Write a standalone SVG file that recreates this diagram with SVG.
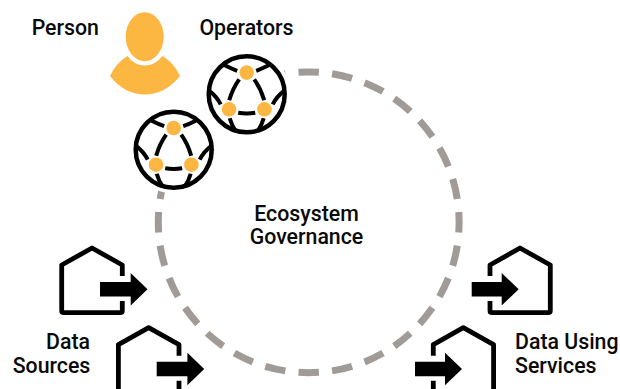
<svg xmlns="http://www.w3.org/2000/svg" xmlns:xlink="http://www.w3.org/1999/xlink" width="620" height="389" viewBox="0 0 620 389">
<style>
text{font-family:Roboto,"Liberation Sans",sans-serif;font-weight:500;font-size:21.3px;fill:#0a0a0a}
.ring{fill:none;stroke:#a09b97;stroke-width:7;stroke-dasharray:20.500 13.250;stroke-dashoffset:10.250}
.house{fill:none;stroke:#000;stroke-width:4.800;stroke-linejoin:round;stroke-linecap:butt}
.arrow{fill:#000}
.net{fill:none;stroke:#000;stroke-width:4}
.halo{fill:#fff}
.globe{fill:#fff;stroke:#000;stroke-width:4.500}
.dot{fill:#fbb741}
</style>
<defs>
<g id="globe">
<circle class="halo" r="44"/>
<circle class="globe" r="38"/>
<path class="net" d="M-9.500-23.500Q-15-25.500-22-29M9.500-23.500Q15-25.500 22-29M-7.500-15Q-14-6-17.500 6M7.500-15Q14-6 17.500 6M-8.500 18.500Q0 20 8.500 18.500M-26 10Q-30 2-38-4M26 10Q30 2 38-4M-17 24Q-15 31-11 37M17 24Q15 31 11 37"/>
<circle class="dot" cy="-21.700" r="7.300"/><circle class="dot" cx="-17.700" cy="15" r="7.300"/><circle class="dot" cx="17.700" cy="15" r="7.300"/>
</g>
<g id="src">
<path class="house" d="M122.300 276V265L92 248 61.700 265V310.500Q61.700 312.700 64 312.700H120Q122.300 312.700 122.300 310.500V301"/>
<path class="arrow" d="M100 282H130.700V273L147.500 289.300 130.700 305.500V296.500H100Z"/>
</g>
<g id="dst">
<path class="house" d="M490 276V265L520 248 550.300 265V310.500Q550.300 312.700 548 312.700H492Q490 312.700 490 310.500V301"/>
<path class="arrow" d="M471.700 282H501.700V273L518.700 289.300 501.700 305.500V296.500H471.700Z"/>
</g>
</defs>
<g id="connectors"><circle class="ring" cx="308.700" cy="222.300" r="150.400" pathLength="945" transform="rotate(-90 308.700 222.300)"/></g>
<g id="person">
<ellipse class="dot" cx="144.700" cy="36.700" rx="19" ry="24.500"/>
<path class="dot" d="M127.500 56Q134 65.500 144.700 65.500T162.500 56Q174 63 180 76Q165 94.500 144.700 94.500T110 76Q116 63 127.500 56Z"/>
<text x="65.300" y="34.500" text-anchor="middle">Person</text>
</g>
<g id="operators">
<text x="246.500" y="34.500" text-anchor="middle">Operators</text>
<use xlink:href="#globe" x="246.700" y="94.300"/>
<use xlink:href="#globe" x="173.700" y="149.700"/>
</g>
<g id="governance"><text x="306.500" y="220.500" text-anchor="middle">Ecosystem</text><text x="306.500" y="243.500" text-anchor="middle">Governance</text></g>
<g id="data-sources">
<use xlink:href="#src"/><use xlink:href="#src" x="56.700" y="79.700"/>
<text x="68" y="349" text-anchor="middle">Data</text><text x="51.500" y="372.500" text-anchor="middle">Sources</text>
</g>
<g id="data-using">
<use xlink:href="#dst"/><use xlink:href="#dst" x="-56.700" y="79.700"/>
<text x="515" y="349">Data Using</text><text x="515" y="372.500">Services</text>
</g>
</svg>
